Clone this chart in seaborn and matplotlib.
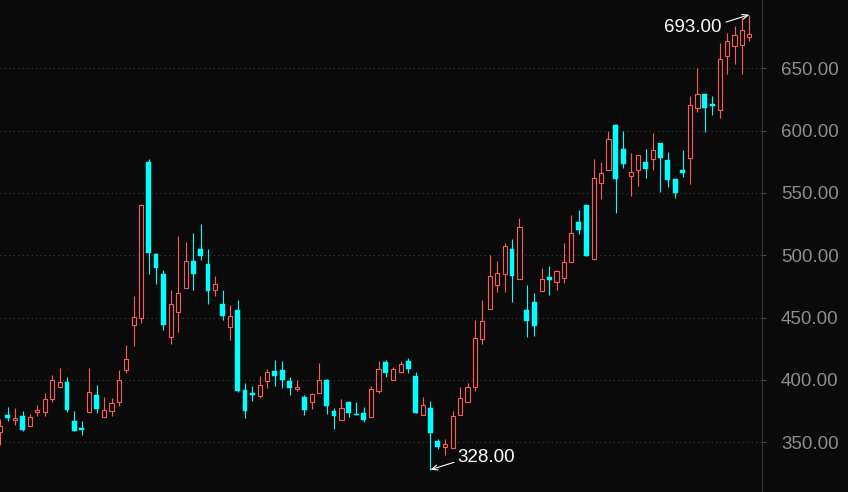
import numpy as np
import pandas as pd
import matplotlib
matplotlib.use("Agg")
import matplotlib.pyplot as plt
import seaborn as sns

# ---- data ----
opens = [358.5, 371.9, 367.6, 371.1, 363.3, 374.5, 374.5, 385.0, 394.6, 398.4,
         367.1, 361.5, 374.5, 388.0, 370.5, 375.4, 382.6, 408.2, 444.3, 449.5,
         574.8, 501.0, 485.0, 434.7, 454.8, 474.0, 495.4, 505.0, 493.0, 471.9,
         460.9, 442.7, 456.2, 392.0, 389.8, 387.4, 399.4, 407.2, 408.0, 399.2,
         392.8, 386.3, 382.6, 389.8, 400.0, 375.1, 368.1, 382.3, 372.9, 373.5,
         370.5, 391.4, 414.4, 399.7, 406.2, 415.2, 402.9, 371.7, 377.5, 351.0,
         346.0, 345.2, 371.9, 382.1, 394.1, 432.9, 456.7, 476.4, 484.8, 505.0,
         481.2, 456.1, 462.5, 471.6, 482.6, 478.8, 482.0, 494.9, 527.0, 540.3,
         497.3, 558.2, 568.7, 604.5, 585.0, 563.9, 568.2, 574.8, 577.0, 589.8,
         576.4, 561.2, 568.7, 578.3, 617.9, 629.1, 621.4, 616.3, 659.6, 667.6,
         668.4, 674.9]
highs = [368.4, 378.3, 377.5, 375.1, 372.7, 379.9, 389.8, 404.0, 409.6, 402.4,
         375.1, 367.1, 409.6, 395.7, 386.3, 385.5, 408.0, 428.0, 467.4, 541.0,
         577.2, 501.6, 488.2, 472.2, 515.5, 510.7, 517.9, 525.1, 505.0, 483.4,
         472.2, 460.1, 464.1, 397.3, 395.2, 403.2, 408.8, 416.0, 415.2, 402.4,
         400.0, 387.9, 389.8, 413.6, 400.5, 377.4, 384.5, 383.1, 382.3, 378.1,
         395.2, 415.2, 416.0, 410.2, 415.2, 417.6, 406.2, 386.1, 382.9, 352.9,
         352.4, 375.1, 394.6, 397.3, 447.9, 463.9, 500.0, 495.4, 509.9, 513.1,
         529.9, 476.2, 469.8, 489.8, 491.4, 488.2, 509.9, 532.3, 536.6, 540.3,
         577.2, 574.8, 599.5, 605.3, 599.7, 582.0, 580.2, 585.3, 598.1, 589.8,
         583.1, 561.2, 584.5, 628.0, 650.0, 629.1, 627.8, 670.1, 678.6, 683.7,
         690.5, 693.0]
lows = [348.0, 367.1, 364.1, 359.1, 363.3, 371.1, 371.1, 382.3, 394.6, 374.5,
        359.3, 355.9, 373.7, 373.7, 370.5, 371.1, 379.1, 405.3, 427.2, 445.9,
        485.0, 477.0, 440.1, 428.8, 438.5, 474.0, 472.2, 496.2, 460.9, 467.6,
        448.1, 432.4, 390.3, 369.7, 383.1, 385.8, 393.8, 395.4, 393.8, 387.9,
        391.4, 372.1, 377.0, 389.8, 372.9, 360.7, 368.1, 370.3, 372.1, 366.3,
        370.5, 389.8, 402.1, 399.7, 405.6, 405.6, 373.7, 371.7, 328.0, 344.4,
        339.6, 345.2, 371.9, 382.1, 391.4, 429.1, 456.7, 470.6, 470.6, 462.8,
        481.2, 434.7, 435.5, 471.6, 468.4, 472.4, 478.0, 494.9, 516.8, 499.7,
        497.3, 545.4, 568.7, 533.9, 570.3, 547.8, 555.8, 562.2, 568.7, 550.5,
        555.0, 546.2, 563.0, 557.0, 615.2, 599.1, 612.6, 610.4, 645.7, 653.7,
        645.7, 671.6]
closes = [363.1, 369.7, 369.5, 359.9, 370.1, 375.9, 384.5, 399.7, 398.4, 376.1,
          359.3, 360.2, 390.1, 376.7, 375.7, 381.3, 400.2, 416.6, 450.3, 540.1,
          502.1, 490.0, 444.1, 460.7, 469.5, 495.2, 485.2, 499.4, 471.6, 476.7,
          451.6, 451.1, 391.4, 375.4, 388.2, 396.0, 406.4, 403.2, 400.0, 393.8,
          394.4, 375.9, 388.7, 400.0, 379.4, 371.1, 377.4, 373.7, 372.1, 367.9,
          392.5, 408.6, 405.8, 408.6, 412.8, 408.8, 373.7, 379.7, 357.2, 346.5,
          348.4, 371.4, 385.3, 394.1, 433.4, 447.6, 483.2, 485.6, 507.2, 483.6,
          522.7, 447.5, 443.5, 480.7, 480.4, 487.4, 494.4, 517.9, 520.6, 499.7,
          561.8, 566.0, 593.1, 561.4, 573.5, 566.6, 580.2, 569.5, 584.2, 578.3,
          560.6, 549.7, 566.3, 620.6, 629.1, 618.4, 619.5, 657.2, 671.6, 676.5,
          680.5, 677.3]
y_ticks = [350, 400, 450, 500, 550, 600, 650]

# ---- style ----
BG = "#0a0a0a"
UP = "#ff5a5a"
DOWN = "#00ffff"
GRID = "#3c3c3c"
LABEL = "#8d8d8d"

sns.set_theme(style="dark", rc={"axes.facecolor": BG, "figure.facecolor": BG,
                                "savefig.facecolor": BG})
plt.rcParams["font.family"] = ["Liberation Sans", "DejaVu Sans"]

df = pd.DataFrame({"open": opens, "high": highs, "low": lows, "close": closes})
df["idx"] = np.arange(len(df))
df["up"] = df["close"] >= df["open"]
df["color"] = np.where(df["up"], UP, DOWN)

fig = plt.figure(figsize=(8.48, 4.92), dpi=100)
ax = fig.add_axes([0, 0, 761.5 / 848, 1])
ax.set_facecolor(BG)

# wicks
ax.vlines(df["idx"], df["low"], df["high"], colors=df["color"], lw=0.8, zorder=2)

# bodies
up = df[df["up"]]
dn = df[~df["up"]]
ax.bar(up["idx"], np.maximum(up["close"] - up["open"], 0.6), bottom=up["open"],
       width=0.56, facecolor=BG, edgecolor=UP, linewidth=0.8, zorder=3)
ax.bar(dn["idx"], np.maximum(dn["open"] - dn["close"], 0.8), bottom=dn["close"],
       width=0.66, facecolor=DOWN, edgecolor=DOWN, linewidth=0.3, zorder=3)

ax.set_xlim(-0.04, 102.64)
ax.set_ylim(310.1, 704.8)

# axes / ticks
ax.set_xticks([])
ax.set_yticks(y_ticks)
ax.set_yticklabels([f"{v:.2f}" for v in y_ticks])
ax.yaxis.tick_right()
ax.tick_params(axis="y", which="both", right=True, left=False, length=3, width=0.8,
               color="#4a4a4a", labelcolor=LABEL, labelsize=13.5, pad=11,
               direction="out")
ax.grid(False)
ax.yaxis.grid(True, color=GRID, linestyle=(0, (1, 3)), linewidth=0.8)
for side in ["top", "left", "bottom"]:
    ax.spines[side].set_visible(False)
ax.spines["right"].set_visible(True)
ax.spines["right"].set_color("#333333")
ax.spines["right"].set_linewidth(0.8)

# annotations for max high / min low
imax = int(np.argmax(highs))
imin = int(np.argmin(lows))
arrow = dict(arrowstyle="->,head_length=0.35,head_width=0.15", color="white",
             lw=0.8, shrinkA=0, shrinkB=0)
ax.annotate("", xy=(imax, highs[imax]), xytext=(-16.8, -5.3),
            textcoords="offset points", arrowprops=arrow, zorder=5)
ax.annotate(f"{highs[imax]:.2f}", xy=(imax, highs[imax]), xytext=(-19.9, -12.7),
            textcoords="offset points", ha="right", va="baseline",
            color="white", fontsize=13.5, zorder=5)
ax.annotate("", xy=(imin, lows[imin]), xytext=(17, 5.3),
            textcoords="offset points", arrowprops=arrow, zorder=5)
ax.annotate(f"{lows[imin]:.2f}", xy=(imin, lows[imin]), xytext=(19.4, 5.5),
            textcoords="offset points", ha="left", va="baseline",
            color="white", fontsize=13.5, zorder=5)

fig.savefig("out.png", dpi=100, facecolor=BG)
